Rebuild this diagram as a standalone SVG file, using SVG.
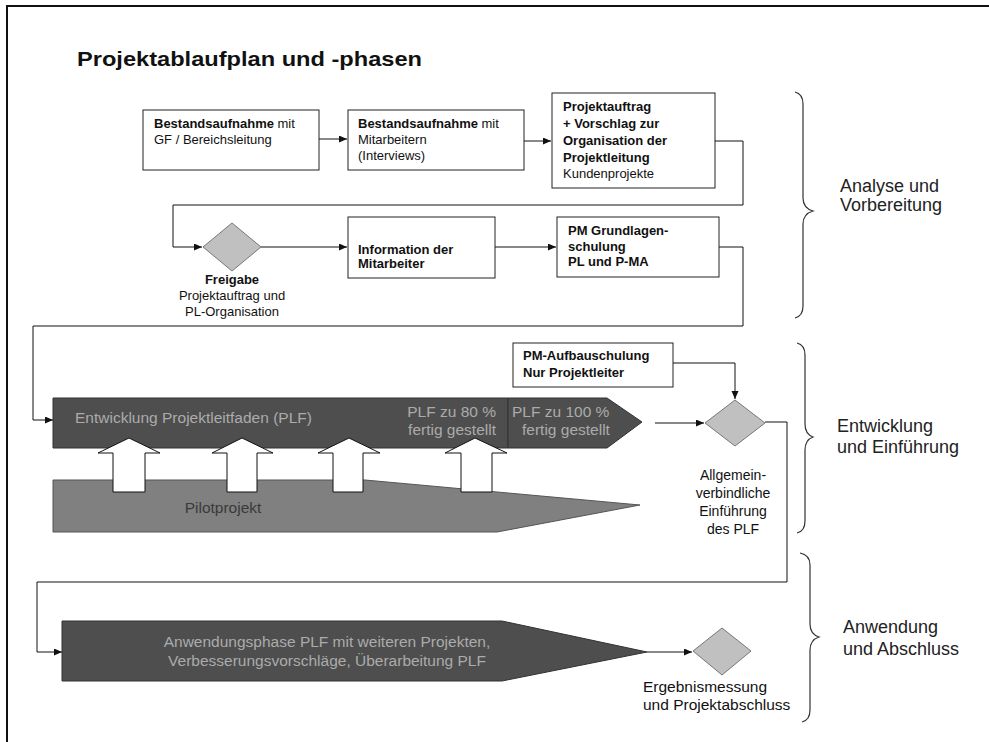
<svg xmlns="http://www.w3.org/2000/svg" width="989" height="742" viewBox="0 0 989 742">
<style>
text{font-family:"Liberation Sans",Arial,sans-serif;fill:#111}
.box{fill:#fff;stroke:#222;stroke-width:1}
.bt{font-size:13px}
.b{font-weight:bold}
.dia{fill:#c0c0c0;stroke:#777;stroke-width:1}
.dl{font-size:13px;text-anchor:middle}
.dl2{font-size:15px}
.con{fill:none;stroke:#111;stroke-width:1}
.bar{fill:#4e4e4e;stroke:#333;stroke-width:1}
.pilot{fill:#808080;stroke:#555;stroke-width:1}
.bartxt{font-size:15.5px;fill:#ababab}
.up{fill:#fff;stroke:#111;stroke-width:1}
.brace{fill:none;stroke:#333;stroke-width:1.2}
.sec{font-size:18px;fill:#222}
</style>
<defs>
<marker id="ah" markerWidth="9" markerHeight="8" refX="8" refY="3.5" orient="auto" markerUnits="userSpaceOnUse">
<path d="M0,0 L8,3.5 L0,7 z" fill="#111"/>
</marker>
</defs>
<rect x="0" y="0" width="989" height="742" fill="#fff"/>
<path d="M7,742 V6 H989" fill="none" stroke="#111" stroke-width="2"/>
<text x="77" y="66" font-size="21" font-weight="bold" textLength="345" lengthAdjust="spacingAndGlyphs">Projektablaufplan und -phasen</text>

<g id="connectors">
<path class="con" d="M319,139 H347" marker-end="url(#ah)"/>
<path class="con" d="M524,141 H551" marker-end="url(#ah)"/>
<path class="con" d="M715,141 H743 V205 H173 V247 H202" marker-end="url(#ah)"/>
<path class="con" d="M261,247 H347" marker-end="url(#ah)"/>
<path class="con" d="M495,247 H556" marker-end="url(#ah)"/>
<path class="con" d="M719,247 H743 V326 H33 V420 H53" marker-end="url(#ah)"/>
<path class="con" d="M673,363 H735 V399" marker-end="url(#ah)"/>
<path class="con" d="M655,423 H704" marker-end="url(#ah)"/>
<path class="con" d="M765,422 H787 V582 H37 V652 H62" marker-end="url(#ah)"/>
<path class="con" d="M647,652 H692" marker-end="url(#ah)"/>
</g>

<g id="n1">
<rect class="box" x="143" y="110" width="176" height="60"/>
<text class="bt" x="154" y="128"><tspan class="b">Bestandsaufnahme</tspan> mit</text>
<text class="bt" x="154" y="144">GF / Bereichsleitung</text>
</g>
<g id="n2">
<rect class="box" x="348" y="110" width="176" height="60"/>
<text class="bt" x="358" y="128"><tspan class="b">Bestandsaufnahme</tspan> mit</text>
<text class="bt" x="358" y="144">Mitarbeitern</text>
<text class="bt" x="358" y="160">(Interviews)</text>
</g>
<g id="n3">
<rect class="box" x="552" y="93" width="163" height="95"/>
<text class="bt b" x="563" y="111">Projektauftrag</text>
<text class="bt b" x="563" y="128">+ Vorschlag zur</text>
<text class="bt b" x="563" y="145">Organisation der</text>
<text class="bt b" x="563" y="162">Projektleitung</text>
<text class="bt" x="563" y="178">Kundenprojekte</text>
</g>
<g id="d1">
<polygon class="dia" points="232,223 261,247 232,271 203,247"/>
<text class="dl b" x="232" y="284">Freigabe</text>
<text class="dl" x="232" y="300">Projektauftrag und</text>
<text class="dl" x="232" y="316">PL-Organisation</text>
</g>
<g id="n4">
<rect class="box" x="348" y="217" width="147" height="61"/>
<text class="bt b" x="358" y="254">Information der</text>
<text class="bt b" x="358" y="268">Mitarbeiter</text>
</g>
<g id="n5">
<rect class="box" x="557" y="217" width="162" height="60"/>
<text class="bt b" x="568" y="235">PM Grundlagen-</text>
<text class="bt b" x="568" y="251">schulung</text>
<text class="bt b" x="568" y="266">PL und P-MA</text>
</g>

<g id="dev">
<polygon class="bar" points="53,398 508,398 508,448 53,448"/>
<text class="bartxt" x="75" y="423">Entwicklung Projektleitfaden (PLF)</text>
<text class="bartxt" x="496" y="417" text-anchor="end">PLF zu 80 %</text>
<text class="bartxt" x="496" y="435" text-anchor="end">fertig gestellt</text>
</g>
<g id="dev100">
<polygon class="bar" points="508,398 607,398 642,422 607,448 508,448"/>
<text class="bartxt" x="512" y="417">PLF zu 100 %</text>
<text class="bartxt" x="522" y="435">fertig gestellt</text>
</g>
<g id="pilot">
<polygon class="pilot" points="53,480 365,480 640,505 497,532 53,532"/>
<text class="bartxt" x="223" y="513" text-anchor="middle" fill="#3a3a3a" style="fill:#3a3a3a">Pilotprojekt</text>
</g>
<g id="uparrows">
<polygon class="up" points="129,438 160,453 145,453 145,492 113,492 113,453 98,453"/>
<polygon class="up" points="242,438 273,453 257,453 257,492 227,492 227,453 212,453"/>
<polygon class="up" points="349,438 380,453 363,453 363,492 333,492 333,453 318,453"/>
<polygon class="up" points="475,438 507,453 492,453 492,492 461,492 461,453 445,453"/>
</g>
<g id="n6">
<rect class="box" x="513" y="343" width="160" height="44"/>
<text class="bt b" x="523" y="360">PM-Aufbauschulung</text>
<text class="bt b" x="523" y="377">Nur Projektleiter</text>
</g>
<g id="d2">
<polygon class="dia" points="735,400 765,423 735,446 705,423"/>
<text class="dl dl2" x="733" y="480" style="font-size:14px">Allgemein-</text>
<text class="dl dl2" x="733" y="498" style="font-size:14px">verbindliche</text>
<text class="dl dl2" x="733" y="516" style="font-size:14px">Einführung</text>
<text class="dl dl2" x="733" y="534" style="font-size:14px">des PLF</text>
</g>
<g id="apply">
<polygon class="bar" points="62,621 502,621 647,652 502,681 62,681"/>
<text class="bartxt" x="327" y="647" text-anchor="middle">Anwendungsphase PLF mit weiteren Projekten,</text>
<text class="bartxt" x="327" y="666" text-anchor="middle">Verbesserungsvorschläge, Überarbeitung PLF</text>
</g>
<g id="d3">
<polygon class="dia" points="722,628 751,651 722,675 693,651"/>
<text x="643" y="692" style="font-size:15.5px">Ergebnismessung</text>
<text x="643" y="710" style="font-size:15.5px">und Projektabschluss</text>
</g>

<g id="phases">
<path class="brace" d="M795,92 Q803,94 803,104 V198 Q803,208 813,211 Q803,214 803,224 V306 Q803,316 795,318"/>
<text class="sec" x="840" y="192">Analyse und</text>
<text class="sec" x="840" y="211">Vorbereitung</text>
<path class="brace" d="M797,343 Q805,345 805,355 V424 Q805,434 813,437 Q805,440 805,450 V521 Q805,531 797,533"/>
<text class="sec" x="837" y="432">Entwicklung</text>
<text class="sec" x="837" y="453">und Einführung</text>
<path class="brace" d="M800,553 Q810,555 810,565 V624 Q810,634 819,637 Q810,640 810,650 V710 Q810,720 802,722"/>
<text class="sec" x="843" y="633">Anwendung</text>
<text class="sec" x="843" y="655">und Abschluss</text>
</g>
</svg>
